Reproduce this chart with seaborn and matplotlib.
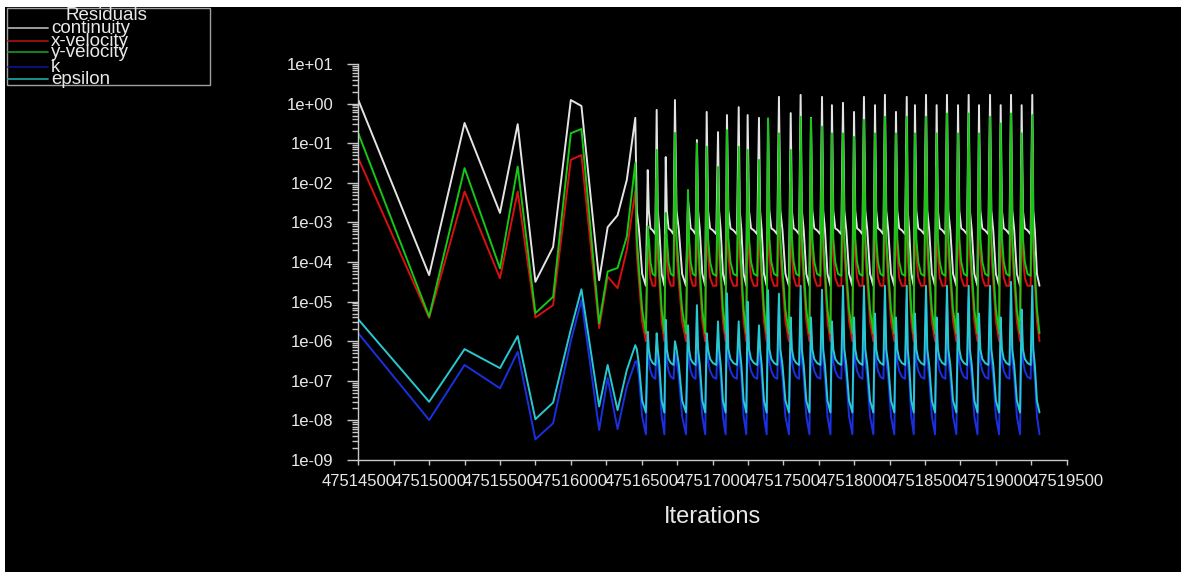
import numpy as np
import pandas as pd
import matplotlib
matplotlib.use("Agg")
import matplotlib.pyplot as plt
import seaborn as sns
from matplotlib.lines import Line2D
from matplotlib.patches import Rectangle
from matplotlib.ticker import FuncFormatter, MultipleLocator, LogLocator, NullFormatter

# ---------------------------------------------------------------- data
series_names = ["continuity", "x-velocity", "y-velocity", "k", "epsilon"]
line_colors = ["#e4e4e4", "#d81010", "#14c814", "#1a30e0", "#28c8d0"]
legend_colors = ["#a8a8a8", "#a01010", "#189018", "#101088", "#1c9c9c"]

# sparse start of the residual history (values are log10 of the residual)
early_iters = [47514500, 47515000, 47515250, 47515500, 47515625, 47515750, 47515875,
               47516000, 47516075, 47516200, 47516260, 47516330, 47516395]
early_continuity = [0.09, -4.33, -0.49, -2.76, -0.52, -4.5, -3.62, 0.09, -0.06, -4.46, -3.12, -2.82, -1.93]
early_xvel = [-1.38, -5.41, -2.22, -4.41, -2.22, -5.4, -5.09, -1.42, -1.3, -5.67, -4.37, -4.66, -3.7]
early_yvel = [-0.75, -5.38, -1.63, -4.16, -1.59, -5.29, -4.88, -0.75, -0.64, -5.55, -4.24, -4.15, -3.36]
early_k = [-5.8, -7.99, -6.6, -7.19, -6.27, -8.48, -8.07, -6.0, -4.96, -8.24, -6.93, -8.22, -7.15]
early_epsilon = [-5.45, -7.53, -6.2, -6.68, -5.87, -7.97, -7.55, -5.7, -4.69, -7.65, -6.6, -7.74, -6.73]

# periodic part: iteration of each residual spike and its peak (log10)
spike_iters = [47516455, 47516543, 47516606, 47516670, 47516735, 47516827, 47516890, 47516959,
               47517039, 47517102, 47517185, 47517248, 47517328, 47517392, 47517469, 47517552,
               47517622, 47517695, 47517773, 47517843, 47517921, 47517999, 47518069, 47518147,
               47518217, 47518295, 47518371, 47518429, 47518507, 47518582, 47518655, 47518733,
               47518808, 47518881, 47518959, 47519034, 47519107, 47519182, 47519257]
peak_continuity = [-0.36, -1.68, -0.16, -1.35, 0.09, -2.43, -0.92, -0.21, -0.72, -0.29,
                   -0.09, -0.29, -0.36, -0.40, 0.17, -0.24, 0.22, -0.36, 0.17, -0.04,
                   0.02, -0.21, 0.17, -0.04, 0.22, -0.21, 0.17, -0.04, 0.22, -0.04,
                   0.22, -0.04, 0.22, -0.04, 0.22, -0.04, 0.22, -0.04, 0.22]
peak_xvel = [-2.2, -3.6, -1.9, -3.3, -1.6, -2.9, -1.8, -1.9, -2.3, -1.5,
             -1.9, -2.0, -2.2, -1.3, -1.6, -2.0, -1.2, -1.3, -1.5, -1.6,
             -1.6, -1.7, -1.3, -1.6, -1.2, -1.6, -1.2, -1.6, -1.2, -1.6,
             -1.1, -1.6, -1.1, -1.6, -1.2, -1.4, -1.1, -1.6, -1.2]
peak_yvel = [-1.5, -3.1, -1.17, -2.76, -0.74, -2.18, -1.0, -1.09, -1.6, -0.67,
             -1.09, -1.17, -1.42, -0.37, -0.75, -1.17, -0.33, -0.37, -0.58, -0.75,
             -0.75, -0.84, -0.41, -0.75, -0.33, -0.75, -0.33, -0.75, -0.33, -0.75,
             -0.25, -0.75, -0.25, -0.75, -0.33, -0.5, -0.25, -0.75, -0.29]
peak_k = [-6.52, -6.05, -6.1, -5.75, -6.3, -5.9, -5.4, -6.1, -5.8, -5.1,
          -5.8, -5.3, -5.9, -5.0, -5.1, -5.7, -4.9, -5.7, -5.0, -5.8,
          -4.9, -5.7, -4.9, -5.6, -4.9, -5.7, -4.9, -5.6, -4.9, -5.7,
          -4.9, -5.6, -4.9, -5.6, -4.9, -5.7, -4.8, -5.5, -4.9]
peak_epsilon = [-6.1, -5.76, -5.8, -5.46, -6.0, -5.6, -5.09, -5.8, -5.5, -4.79,
                -5.5, -5.0, -5.6, -4.71, -4.8, -5.4, -4.6, -5.4, -4.7, -5.5,
                -4.6, -5.4, -4.6, -5.3, -4.6, -5.4, -4.6, -5.3, -4.6, -5.4,
                -4.6, -5.3, -4.6, -5.3, -4.6, -5.4, -4.5, -5.2, -4.6]

# decay after each spike: "A" settles on a plateau, "B" drops to a deep minimum
cycle_types = "BABABABABABABABABABABABABABABABABABABAB"
cycle_fracs = [0.12, 0.3, 0.55, 0.85]
last_cycle_span = 60
tail_continuity = {"A": [-2.7, -3.15, -3.2, -3.3], "B": [-2.7, -3.2, -4.3, -4.6]}
tail_xvel = {"A": [-3.8, -4.4, -4.6, -4.6], "B": [-3.8, -4.5, -5.5, -6.0]}
tail_yvel = {"A": [-3.4, -4.0, -4.3, -4.35], "B": [-3.4, -4.2, -5.2, -5.8]}
tail_k = {"A": [-6.5, -6.75, -6.9, -6.95], "B": [-6.5, -6.9, -7.9, -8.35]}
tail_epsilon = {"A": [-6.2, -6.45, -6.55, -6.6], "B": [-6.2, -6.6, -7.5, -7.8]}

early_by_series = [early_continuity, early_xvel, early_yvel, early_k, early_epsilon]
peaks_by_series = [peak_continuity, peak_xvel, peak_yvel, peak_k, peak_epsilon]
tails_by_series = [tail_continuity, tail_xvel, tail_yvel, tail_k, tail_epsilon]

rows = []
for name, early, peaks, tails in zip(series_names, early_by_series, peaks_by_series, tails_by_series):
    for it, lv in zip(early_iters, early):
        rows.append((it, 10.0 ** lv, name))
    for i, s in enumerate(spike_iters):
        span = spike_iters[i + 1] - s if i + 1 < len(spike_iters) else last_cycle_span
        rows.append((s, 10.0 ** peaks[i], name))
        for frac, lv in zip(cycle_fracs, tails[cycle_types[i]]):
            rows.append((s + frac * span, 10.0 ** lv, name))
df = pd.DataFrame(rows, columns=["iteration", "residual", "series"])

# ---------------------------------------------------------------- figure
sns.set_theme(style="ticks")
plt.rcParams["font.family"] = ["Liberation Sans", "DejaVu Sans"]

W, H = 1181, 572
fig = plt.figure(figsize=(W / 100, H / 100), dpi=100)
fig.patch.set_facecolor("white")
fig.add_artist(Rectangle((5 / W, 0), 1, 1 - 7 / H, transform=fig.transFigure,
                         facecolor="black", edgecolor="none", zorder=-10))

ax = fig.add_axes([358.3 / W, 1 - 460 / H, (1066.7 - 358.3) / W, (460 - 64) / H])
ax.set_facecolor("black")

sns.lineplot(data=df, x="iteration", y="residual", hue="series", hue_order=series_names,
             palette=dict(zip(series_names, line_colors)), estimator=None, sort=False,
             linewidth=1.4, legend=False, ax=ax)

ax.set_yscale("log")
ax.set_ylim(1e-9, 1e1)
ax.set_xlim(47514500, 47519500)

axis_grey = "#c8c8c8"
text_col = "#e8e8e8"
ax.yaxis.set_major_locator(LogLocator(base=10, numticks=20))
ax.yaxis.set_minor_locator(LogLocator(base=10, subs=np.arange(2, 10), numticks=20))
ax.yaxis.set_major_formatter(FuncFormatter(lambda v, p: f"{v:.0e}"))
ax.yaxis.set_minor_formatter(NullFormatter())
ax.xaxis.set_major_locator(MultipleLocator(500))
ax.xaxis.set_minor_locator(MultipleLocator(250))
ax.xaxis.set_major_formatter(FuncFormatter(lambda v, p: f"{v:.0f}"))

ax.tick_params(axis="y", which="major", length=8, width=1, color=axis_grey,
               labelcolor=text_col, labelsize=12, pad=10)
ax.tick_params(axis="y", which="minor", length=4, width=1, color=axis_grey)
ax.tick_params(axis="x", which="both", length=3.6, width=1, color=axis_grey,
               labelcolor=text_col, labelsize=12, pad=6.5)

for side in ["top", "right"]:
    ax.spines[side].set_visible(False)
for side in ["left", "bottom"]:
    ax.spines[side].set_color(axis_grey)
    ax.spines[side].set_linewidth(1)

ax.set_ylabel("")
ax.set_xlabel("Iterations", fontsize=17, color=text_col, labelpad=12)

# ---------------------------------------------------------------- legend box
def fx(px):
    return px / W


def fy(py):
    return 1 - py / H


fig.add_artist(Rectangle((fx(7), fy(85)), fx(210) - fx(7), fy(8) - fy(85),
                         transform=fig.transFigure, facecolor="none",
                         edgecolor="#a0a0a0", linewidth=1))
fig.text(fx(106.5), fy(15), "Residuals", color=text_col, fontsize=13.5,
         ha="center", va="center")
legend_line_y = [28.3, 41, 52.3, 66.7, 79]
for name, col, ly in zip(series_names, legend_colors, legend_line_y):
    fig.add_artist(Line2D([fx(8), fx(48)], [fy(ly), fy(ly)], transform=fig.transFigure,
                          color=col, linewidth=1.3))
    fig.text(fx(51), fy(ly + 5), name, color=text_col, fontsize=13.5,
             ha="left", va="baseline")

fig.savefig("out.png", dpi=100, facecolor=fig.get_facecolor())
